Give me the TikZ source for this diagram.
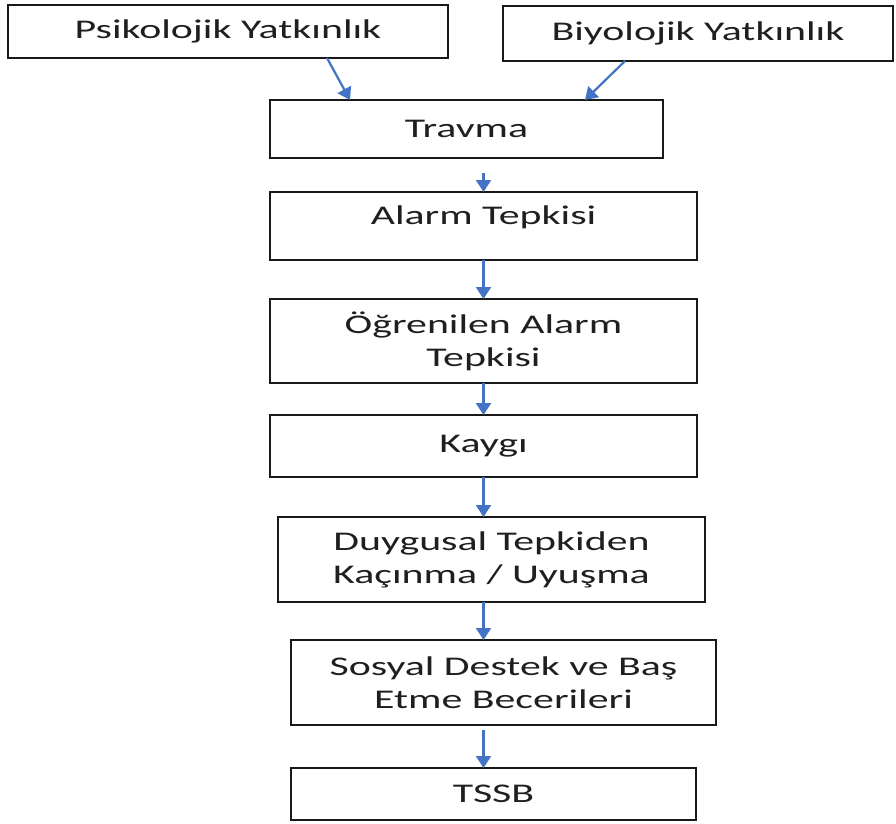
\documentclass[tikz,border=0pt]{standalone}
\usepackage{fontspec}
\setmainfont{Carlito}[FakeStretch=1.55]
\usetikzlibrary{arrows.meta,calc}
\definecolor{arrowblue}{HTML}{4472C4}
\tikzset{
  box/.style={draw=black!90, line width=2pt, rectangle, inner sep=0pt, outer sep=0pt,
    align=center, font=\fontsize{27}{33}\selectfont, text=black!88},
  arr/.style={draw=arrowblue, line width=2.2pt, -{Triangle[width=15pt,length=12pt]}}
}
\begin{document}
\begin{tikzpicture}[x=1pt,y=-1pt]
\useasboundingbox (0,0) rectangle (896,823);
\node[box, minimum width=440pt, minimum height=53pt] (psik) at (228,31.5) {Psikolojik Yatkınlık};
\node[box, minimum width=390pt, minimum height=55pt] (biyo) at (698,33.5) {Biyolojik Yatkınlık};
\node[box, minimum width=393pt, minimum height=58pt] (travma) at (466.5,129) {Travma};
\node[box, minimum width=427pt, minimum height=68pt, text depth=22pt] (alarm) at (483.5,226) {Alarm Tepkisi};
\node[box, minimum width=427pt, minimum height=84pt] (ogr) at (483.5,341) {Öğrenilen Alarm\\Tepkisi};
\node[box, minimum width=427pt, minimum height=62pt] (kaygi) at (483.5,446) {Kaygı};
\node[box, minimum width=427pt, minimum height=85pt] (duyg) at (491.5,559.5) {Duygusal Tepkiden\\Kaçınma / Uyuşma};
\node[box, minimum width=425pt, minimum height=85pt] (sosyal) at (503.5,682.5) {Sosyal Destek ve Baş\\Etme Becerileri};
\node[box, minimum width=405pt, minimum height=52pt] (tssb) at (493.5,794) {TSSB};

\draw[arr] ([xshift=319pt]psik.south west) -- ([xshift=80pt]travma.north west);
\draw[arr] ([xshift=122pt]biyo.south west) -- ([xshift=315pt]travma.north west);
\path (travma.south -| alarm.north) ++(0,15) coordinate (t1);
\draw[arr] (t1) -- (alarm.north);
\draw[arr] (alarm.south) -- (ogr.north);
\draw[arr] (ogr.south) -- (kaygi.north);
\draw[arr] (kaygi.south) -- (kaygi.south |- duyg.north);
\draw[arr] (duyg.south -| kaygi.south) -- (sosyal.north -| kaygi.south);
\path (sosyal.south -| kaygi.south) ++(0,5) coordinate (s1);
\draw[arr] (s1) -- (tssb.north -| kaygi.south);
\end{tikzpicture}
\end{document}
